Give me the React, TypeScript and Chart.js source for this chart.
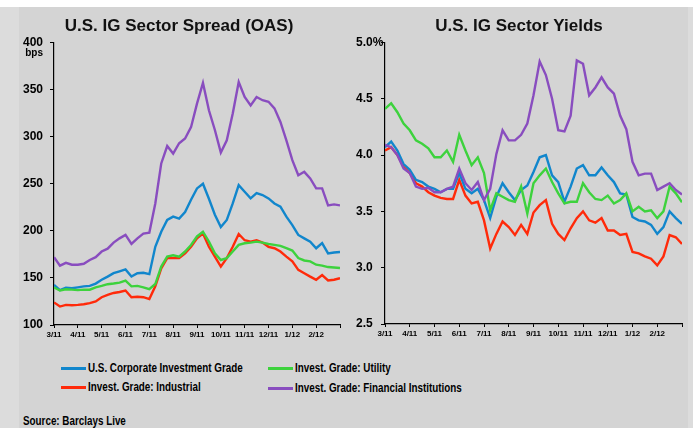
import React, { useEffect, useRef } from "react";
import { Chart, registerables } from "chart.js";

Chart.register(...registerables);

const FONT = "'Liberation Sans', Arial, Helvetica, sans-serif";

// Month tick labels (axis runs 3/11 .. end of 2/12)
const monthLabels = ["3/11", "4/11", "5/11", "6/11", "7/11", "8/11", "9/11", "10/11", "11/11", "12/11", "1/12", "2/12"];

// Series names
const seriesNames = [
  "U.S. Corporate Investment Grade",
  "Invest. Grade: Industrial",
  "Invest. Grade: Utility",
  "Invest. Grade: Financial Institutions",
];
const seriesColors = ["#1186cc", "#ff2a0a", "#3dd23d", "#894dbf"];

// Spread (OAS, bps) — roughly weekly readings, Mar-2011 .. Feb-2012
const oasCorpIG = [142.6, 137, 139.5, 139, 140, 141, 141.5, 144, 148, 151.4, 155, 157, 159, 151.4, 155, 155.5, 154, 183, 199, 211.5, 215, 213, 220, 233, 245, 250, 234, 217, 204, 211.5, 229, 248.5, 241.5, 234.4, 240, 238, 234.4, 229, 225.6, 215, 206, 195.6, 192, 188.5, 181.5, 187, 176, 177, 177.5];
const oasIndustrial = [124, 119.6, 121.4, 121, 121.4, 122, 123.2, 125, 129.5, 132, 134, 135, 136.6, 129.5, 130, 129.5, 127.5, 141, 160, 171, 171, 171, 176, 183, 192, 197, 183, 172.6, 162, 171, 183, 196.6, 190, 188.5, 190, 187.5, 183, 181.5, 178, 172.6, 167.5, 158.5, 155, 151.4, 148, 153, 147.3, 148, 149.6];
const oasUtility = [139.8, 136.6, 138, 137.5, 137, 137.5, 137.5, 140, 141.5, 143.3, 144, 145, 147, 141, 141.5, 140, 138, 143.5, 162, 172.6, 174, 172.6, 178, 185, 194, 199, 188.5, 176, 169, 171, 178, 185, 186.8, 187.5, 188.5, 187.5, 186, 185, 184, 181.5, 179, 171, 168.5, 167.5, 164, 163, 161.5, 161, 160.5];
const oasFinancial = [172, 163, 166, 164, 164, 165, 169, 172, 178, 181, 187.5, 192, 195.6, 186, 192, 197, 198, 229, 271.5, 290, 282, 293, 298, 310, 335, 357, 328, 307, 283, 296, 324.5, 358, 342, 333, 342, 338.6, 337, 330, 315.6, 296, 275, 259, 262.6, 255.6, 245, 245, 227, 228, 227];

// Yields (%) — roughly weekly readings
const yldCorpIG = [4.07, 4.12, 4.04, 3.92, 3.87, 3.78, 3.76, 3.72, 3.70, 3.67, 3.70, 3.70, 3.84, 3.70, 3.66, 3.70, 3.60, 3.44, 3.63, 3.75, 3.67, 3.60, 3.69, 3.73, 3.85, 3.98, 4.00, 3.82, 3.76, 3.585, 3.72, 3.88, 3.91, 3.82, 3.82, 3.89, 3.82, 3.76, 3.66, 3.65, 3.45, 3.42, 3.41, 3.38, 3.30, 3.36, 3.50, 3.44, 3.39];
const yldIndustrial = [4.04, 4.07, 4.00, 3.895, 3.84, 3.75, 3.72, 3.67, 3.64, 3.62, 3.61, 3.61, 3.78, 3.64, 3.57, 3.585, 3.42, 3.17, 3.30, 3.41, 3.36, 3.29, 3.38, 3.30, 3.49, 3.555, 3.60, 3.39, 3.30, 3.245, 3.35, 3.44, 3.50, 3.42, 3.40, 3.44, 3.33, 3.33, 3.29, 3.30, 3.14, 3.127, 3.10, 3.08, 3.02, 3.10, 3.29, 3.27, 3.21];
const yldUtility = [4.41, 4.46, 4.38, 4.28, 4.22, 4.13, 4.10, 4.06, 3.98, 3.98, 4.04, 3.94, 4.18, 4.04, 3.91, 3.98, 3.84, 3.51, 3.66, 3.63, 3.60, 3.585, 3.72, 3.48, 3.75, 3.82, 3.88, 3.76, 3.66, 3.57, 3.585, 3.585, 3.75, 3.67, 3.61, 3.60, 3.64, 3.57, 3.60, 3.66, 3.50, 3.54, 3.50, 3.51, 3.44, 3.50, 3.72, 3.66, 3.58];
const yldFinancial = [4.09, 4.07, 4.00, 3.88, 3.84, 3.72, 3.70, 3.71, 3.67, 3.67, 3.70, 3.72, 3.88, 3.75, 3.69, 3.76, 3.60, 3.70, 4.01, 4.22, 4.13, 4.13, 4.18, 4.28, 4.53, 4.83, 4.71, 4.50, 4.22, 4.21, 4.35, 4.84, 4.81, 4.53, 4.60, 4.69, 4.60, 4.545, 4.35, 4.23, 3.94, 3.82, 3.835, 3.835, 3.69, 3.72, 3.75, 3.69, 3.65];

const spreadTicks = [100, 150, 200, 250, 300, 350, 400];
const yieldTicks = [2.5, 3.0, 3.5, 4.0, 4.5, 5.0];

function toPoints(vals: number[]) {
  const n = vals.length - 1;
  return vals.map((v, i) => ({ x: (i * monthLabels.length) / n, y: v }));
}

function makeDatasets(series: number[][]) {
  // draw purple/green on top: Chart.js draws lower "order" last (on top)
  const orders = [3, 4, 2, 1];
  return series.map((vals, i) => ({
    label: seriesNames[i],
    data: toPoints(vals),
    borderColor: seriesColors[i],
    backgroundColor: seriesColors[i],
    borderWidth: 2.4,
    pointRadius: 0,
    tension: 0,
    order: orders[i],
  }));
}

const bpsPlugin = {
  id: "bpsLabel",
  afterDraw(chart: any) {
    const ys = chart.scales.y;
    const ctx = chart.ctx;
    ctx.save();
    ctx.font = `bold 10px ${FONT}`;
    ctx.fillStyle = "#000";
    ctx.textAlign = "right";
    ctx.textBaseline = "middle";
    ctx.fillText("bps", ys.right - 11, ys.getPixelForValue(400) + 11);
    ctx.restore();
  },
};

type PanelProps = {
  left: number;
  top: number;
  width: number;
  height: number;
  title: string;
  series: number[][];
  yTicks: number[];
  yFormat: (v: number) => string;
  yWidth: number;
  crossAlign: "near" | "far";
  padLeft: number;
  padRight: number;
  plugins?: any[];
};

function Panel(p: PanelProps) {
  const ref = useRef<HTMLCanvasElement | null>(null);
  useEffect(() => {
    if (!ref.current) return;
    const chart = new Chart(ref.current, {
      type: "line",
      data: { datasets: makeDatasets(p.series) as any },
      options: {
        animation: false,
        responsive: false,
        devicePixelRatio: 1,
        layout: { padding: { left: p.padLeft, right: p.padRight, top: 0, bottom: 0 } },
        plugins: {
          legend: { display: false },
          tooltip: { enabled: false },
          title: {
            display: true,
            text: p.title,
            color: "#111",
            font: { family: FONT, size: 17, weight: "bold" },
            padding: { top: 9, bottom: 6 },
          },
        },
        scales: {
          x: {
            type: "linear",
            min: 0,
            max: monthLabels.length,
            afterBuildTicks: (s: any) => {
              s.ticks = Array.from({ length: monthLabels.length + 1 }, (_, i) => ({ value: i }));
            },
            afterFit: (s: any) => {
              s.height = 20;
            },
            ticks: {
              autoSkip: false,
              maxRotation: 0,
              padding: 2,
              color: "#000",
              font: { family: FONT, size: 8, weight: "bold" },
              callback: (v: any) => monthLabels[v as number] ?? "",
            },
            grid: { drawOnChartArea: false, tickLength: 3, color: "#000", lineWidth: 1 },
            border: { color: "#000", width: 1.2 },
          },
          y: {
            type: "linear",
            min: p.yTicks[0],
            max: p.yTicks[p.yTicks.length - 1],
            afterBuildTicks: (s: any) => {
              s.ticks = p.yTicks.map((v) => ({ value: v }));
            },
            afterFit: (s: any) => {
              s.width = p.yWidth;
            },
            ticks: {
              padding: 7,
              crossAlign: p.crossAlign,
              color: "#000",
              font: { family: FONT, size: 12, weight: "bold" },
              callback: (v: any) => p.yFormat(v as number),
            },
            grid: { drawOnChartArea: false, tickLength: 4, color: "#000", lineWidth: 1 },
            border: { color: "#000", width: 1.2 },
          },
        },
      } as any,
      plugins: p.plugins || [],
    });
    return () => chart.destroy();
  }, []);
  return (
    <canvas
      ref={ref}
      width={p.width}
      height={p.height}
      style={{ position: "absolute", left: p.left, top: p.top, width: p.width, height: p.height }}
    />
  );
}

const legendText: React.CSSProperties = {
  position: "absolute",
  fontFamily: FONT,
  fontWeight: "bold",
  fontSize: 12,
  lineHeight: "14px",
  color: "#000",
  whiteSpace: "nowrap",
  transform: "scaleX(0.82)",
  transformOrigin: "left center",
};

function LegendItem({ idx, x, y }: { idx: number; x: number; y: number }) {
  return (
    <>
      <div style={{ position: "absolute", left: x, top: y - 1.5, width: 25, height: 3, background: seriesColors[idx] }} />
      <div style={{ ...legendText, left: x + 27, top: y - 7 }}>{seriesNames[idx]}</div>
    </>
  );
}

export default function App() {
  return (
    <div style={{ position: "absolute", left: 0, top: 0, width: 693, height: 428, background: "#fff", overflow: "hidden" }}>
      <div style={{ position: "absolute", left: 0, top: 7, width: 693, height: 421, background: "#dcdcdc" }} />
      <div style={{ position: "absolute", left: 19, top: 7, width: 669, height: 421, background: "#d4d4d4" }} />
      <Panel
        left={18}
        top={7}
        width={330}
        height={338}
        title="U.S. IG Sector Spread (OAS)"
        series={[oasCorpIG, oasIndustrial, oasUtility, oasFinancial]}
        yTicks={spreadTicks}
        yFormat={(v) => String(v)}
        yWidth={36}
        crossAlign="near"
        padLeft={0}
        padRight={8}
        plugins={[bpsPlugin]}
      />
      <Panel
        left={352}
        top={7}
        width={332}
        height={337}
        title="U.S. IG Sector Yields"
        series={[yldCorpIG, yldIndustrial, yldUtility, yldFinancial]}
        yTicks={yieldTicks}
        yFormat={(v) => (v === 5 ? "5.0%" : v.toFixed(1))}
        yWidth={29}
        crossAlign="far"
        padLeft={4}
        padRight={2}
      />
      <LegendItem idx={0} x={61} y={368} />
      <LegendItem idx={1} x={61} y={387} />
      <LegendItem idx={2} x={268} y={368} />
      <LegendItem idx={3} x={268} y={388} />
      <div style={{ ...legendText, left: 23, top: 414 }}>Source: Barclays Live</div>
    </div>
  );
}
